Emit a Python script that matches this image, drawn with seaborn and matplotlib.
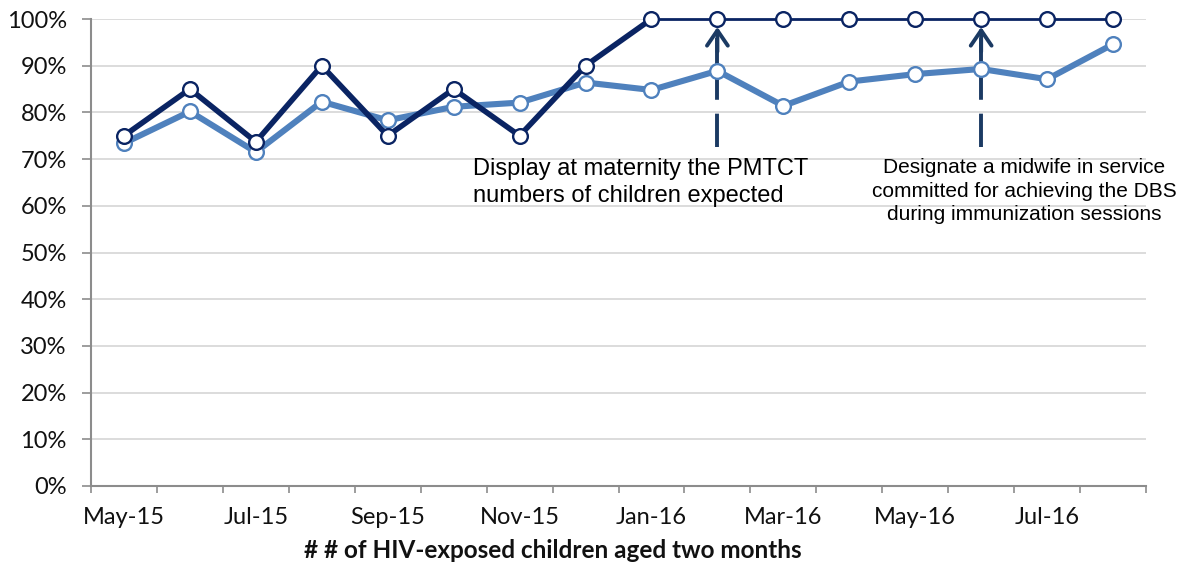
import numpy as np
import pandas as pd
import matplotlib
matplotlib.use("Agg")
import matplotlib.pyplot as plt
import seaborn as sns
from matplotlib.ticker import FixedLocator, FuncFormatter, NullFormatter

# ---------------- data ----------------
months = ["May-15", "Jun-15", "Jul-15", "Aug-15", "Sep-15", "Oct-15", "Nov-15", "Dec-15",
          "Jan-16", "Feb-16", "Mar-16", "Apr-16", "May-16", "Jun-16", "Jul-16", "Aug-16"]
dark_values = [75.0, 85.0, 73.7, 90.0, 75.0, 85.0, 75.0, 90.0,
               100.0, 100.0, 100.0, 100.0, 100.0, 100.0, 100.0, 100.0]
light_values = [73.4, 80.2, 71.5, 82.3, 78.3, 81.2, 82.1, 86.4,
                84.8, 88.9, 81.4, 86.6, 88.2, 89.3, 87.1, 94.6]
y_ticks = [0, 10, 20, 30, 40, 50, 60, 70, 80, 90, 100]
x_label = "# # of HIV-exposed children aged two months"
note1_text = "Display at maternity the PMTCT\nnumbers of children expected"
note2_text = "Designate a midwife in service\ncommitted for achieving the DBS\nduring immunization sessions"
note1_month = "Feb-16"
note2_month = "Jun-16"
thin_from_month = "Jan-16"

DARK = "#0A2463"
LIGHT = "#4F81BD"
ARROW = "#1B3A63"
GRAY = "#8C8C8C"

df = pd.DataFrame({"pos": np.arange(len(months)), "month": months,
                   "dark": dark_values, "light": light_values})
k = months.index(thin_from_month)

sns.set_theme(style="white")
plt.rcParams["font.family"] = ["Lato", "DejaVu Sans"]
plt.rcParams["lines.scale_dashes"] = False

W, H = 1188, 569
fig = plt.figure(figsize=(W / 100, H / 100), dpi=100)
ax = fig.add_axes([91 / W, 1 - 486 / H, (1146 - 91) / W, (486 - 19) / H])

# lines
sns.lineplot(data=df, x="pos", y="light", color=LIGHT, linewidth=4.4, ax=ax,
             zorder=3, solid_capstyle="round", solid_joinstyle="round")
sns.lineplot(data=df.iloc[:k + 1], x="pos", y="dark", color=DARK, linewidth=4.0, ax=ax,
             zorder=4, solid_capstyle="round", solid_joinstyle="round")
sns.lineplot(data=df.iloc[k:], x="pos", y="dark", color=DARK, linewidth=2.0, ax=ax,
             zorder=4, clip_on=False)
# markers
sns.scatterplot(data=df, x="pos", y="light", s=112, color="white", edgecolor=LIGHT,
                linewidth=1.7, ax=ax, zorder=5, clip_on=False)
sns.scatterplot(data=df, x="pos", y="dark", s=112, color="white", edgecolor=DARK,
                linewidth=1.7, ax=ax, zorder=6, clip_on=False)

ax.set_xlim(-0.5, len(months) - 0.5)
ax.set_ylim(0, 100)

# y axis
ax.set_yticks(y_ticks)
ax.yaxis.set_major_formatter(FuncFormatter(lambda v, p: f"{v:.0f}%"))
ax.grid(axis="y", color="#D9D9D9", linewidth=1.3, zorder=0)
ax.set_axisbelow(True)

# x axis: boundary ticks (major) + labels at every second month (minor)
ax.xaxis.set_major_locator(FixedLocator(np.arange(-0.5, len(months), 1.0)))
ax.xaxis.set_major_formatter(NullFormatter())
ax.xaxis.set_minor_locator(FixedLocator(df["pos"][::2].tolist()))
ax.set_xticklabels(months[::2], minor=True)

for s in ["top", "right"]:
    ax.spines[s].set_visible(False)
for s in ["left", "bottom"]:
    ax.spines[s].set_color(GRAY)
    ax.spines[s].set_linewidth(1.5)

ax.tick_params(axis="y", which="major", direction="out", length=6.5, width=1.2,
               color=GRAY, labelsize=17, pad=11, labelcolor="#111111")
ax.tick_params(axis="x", which="major", direction="out", length=5, width=1.2, color=GRAY)
ax.tick_params(axis="x", which="minor", length=0, labelsize=17, pad=15, labelcolor="#111111")
ax.tick_params(left=True, bottom=True)

ax.set_ylabel("")
ax.set_xlabel(x_label, fontsize=17.5, fontweight="bold", color="#111111")
ax.xaxis.set_label_coords((553 - 91) / (1146 - 91), (486 - 551) / (486 - 19))
ax.xaxis.label.set_va("center")

# annotations: dashed arrows
for m in [note1_month, note2_month]:
    xm = months.index(m)
    ax.plot([xm, xm], [72.6, 96.0], color=ARROW, linewidth=2.8,
            dashes=(24, 10, 200, 10), zorder=2, solid_capstyle="butt",
            dash_capstyle="butt")
    ax.annotate("", xy=(xm, 98.3), xytext=(xm, 93.0),
                arrowprops=dict(arrowstyle="->,head_length=1.1,head_width=0.75",
                                mutation_scale=10, color=ARROW, lw=2.8,
                                shrinkA=0, shrinkB=0),
                zorder=2)

ax.text(months.index(note1_month) - 3.7, 70.3, note1_text, ha="left", va="top",
        fontsize=17, family=["Liberation Sans"], color="#000000", linespacing=1.32)
ax.text(months.index(note2_month) + 0.65, 70.2, note2_text, ha="center", va="top",
        fontsize=15, family=["Liberation Sans"], color="#000000", linespacing=1.3)

fig.savefig("out.png", dpi=100)
